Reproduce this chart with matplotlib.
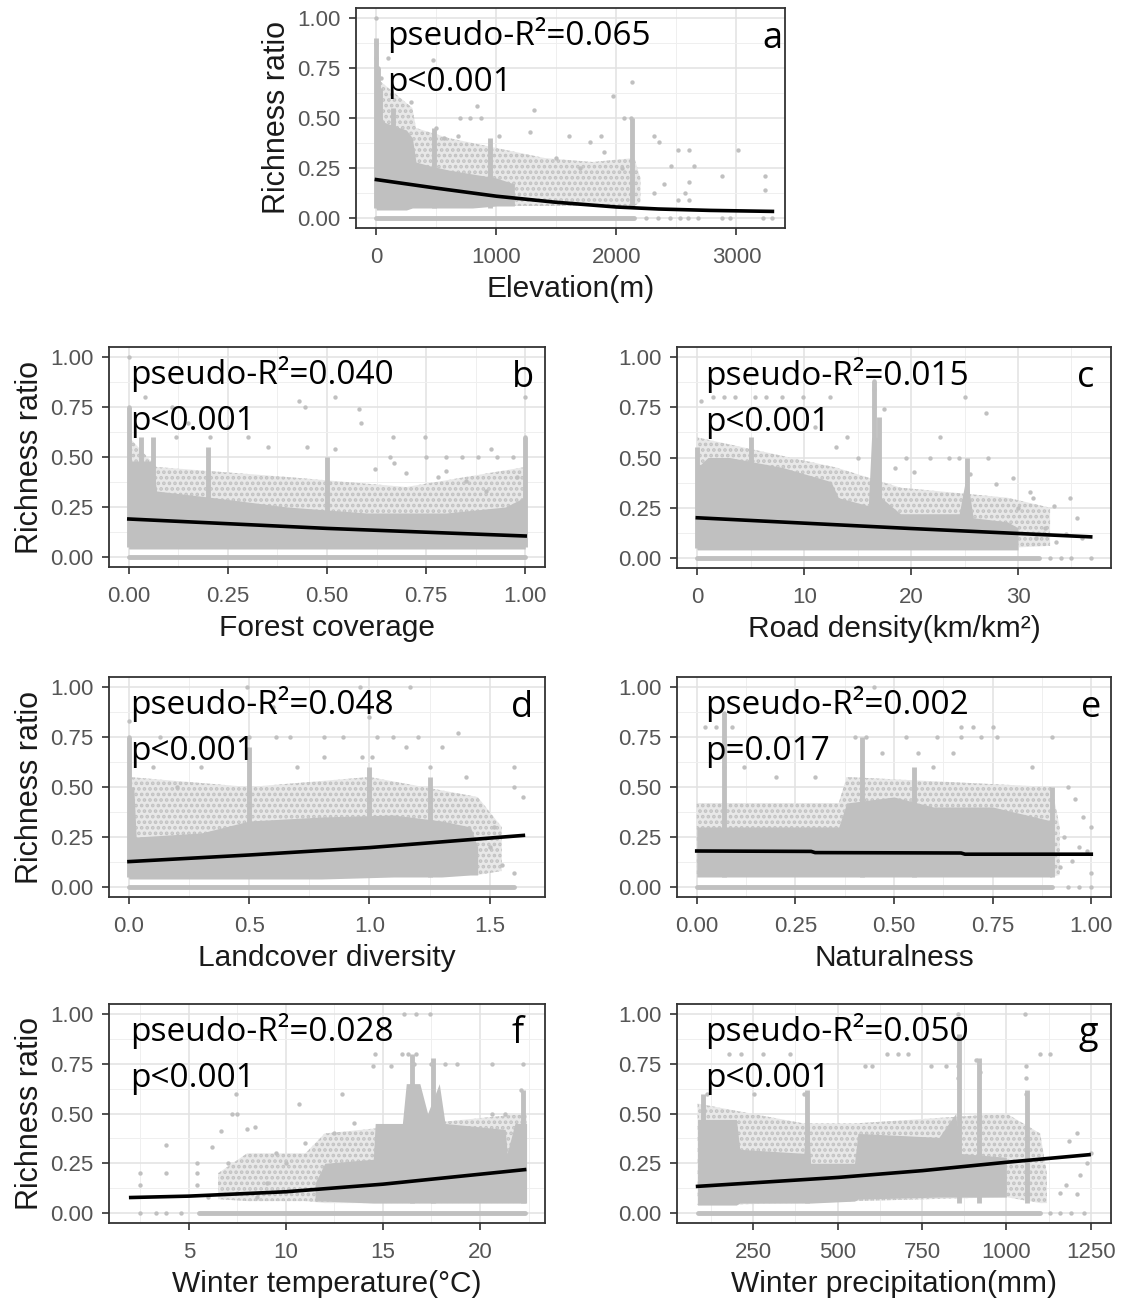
import numpy as np
import matplotlib.pyplot as plt
from matplotlib.ticker import AutoMinorLocator

# ---- panel a: elevation ----
a_core_x = [0, 20, 60, 150, 250, 300, 330, 450, 600, 800, 1000, 1150]
a_core_lo = [0.04, 0.04, 0.04, 0.04, 0.04, 0.05, 0.05, 0.05, 0.05, 0.05, 0.06, 0.06]
a_core_hi = [0.62, 0.55, 0.48, 0.46, 0.44, 0.40, 0.28, 0.26, 0.24, 0.22, 0.20, 0.17]
a_halo_x = [0, 300, 330, 600, 1000, 1400, 1800, 2150, 2200]
a_halo_lo = [0.04, 0.05, 0.05, 0.05, 0.06, 0.06, 0.06, 0.06, 0.08]
a_halo_hi = [0.70, 0.55, 0.45, 0.40, 0.35, 0.30, 0.28, 0.30, 0.20]
a_spike_x = [0, 10, 30, 140, 480, 950, 2130]
a_spike_top = [0.90, 0.75, 0.65, 0.55, 0.45, 0.40, 0.50]
a_zero = [0, 2150]
a_pts_x = [0, 0, 0, 15, 40, 100, 475, 285, 842, 1312, 2134, 1972, 2060, 2119, 696, 784, 872,
           681, 1018, 1283, 1605, 1870, 2310, 1782, 2354, 2515, 2604, 3014, 2457, 2648, 2882,
           3235, 3235, 2604, 2574, 2604, 2310, 2398, 2515, 500, 560, 1500, 1700, 1900, 2050,
           2250, 2350, 2450, 2530, 2600, 2680, 2880, 2950, 3220, 3300]
a_pts_y = [1.0, 0.87, 0.8, 0.75, 0.7, 0.8, 0.79, 0.58, 0.56, 0.54, 0.68, 0.61, 0.5, 0.5, 0.5, 0.5, 0.5,
           0.41, 0.41, 0.43, 0.41, 0.41, 0.41, 0.38, 0.38, 0.34, 0.34, 0.34, 0.26, 0.26, 0.21,
           0.21, 0.14, 0.18, 0.125, 0.09, 0.125, 0.17, 0.09, 0.45, 0.40, 0.30, 0.25, 0.33, 0.25,
           0, 0, 0, 0, 0, 0, 0, 0, 0, 0]
a_fit_x = [0, 490, 1000, 1490, 2000, 2350, 2780, 3300]
a_fit_y = [0.192, 0.150, 0.109, 0.079, 0.055, 0.045, 0.038, 0.033]

# ---- panel b: forest coverage ----
b_core_x = [0, 0.06, 0.07, 0.2, 0.4, 0.6, 0.8, 0.95, 1.0]
b_core_lo = [0.04, 0.04, 0.04, 0.04, 0.04, 0.04, 0.04, 0.04, 0.04]
b_core_hi = [0.48, 0.48, 0.33, 0.30, 0.25, 0.22, 0.22, 0.25, 0.30]
b_halo_x = [0, 0.07, 0.4, 0.7, 1.0]
b_halo_lo = [0.04, 0.04, 0.04, 0.04, 0.04]
b_halo_hi = [0.60, 0.45, 0.40, 0.35, 0.45]
b_spike_x = [0.0, 0.03, 0.06, 0.2, 0.5, 1.0]
b_spike_top = [0.75, 0.60, 0.60, 0.55, 0.50, 0.60]
b_zero = [0, 1.0]
b_pts_x = [0, 0.042, 0.0, 0.11, 0.205, 0.43, 0.445, 0.52, 0.58, 0.585, 0.52, 0.666, 0.747, 0.914,
           1.0, 1.0, 0.66, 0.75, 0.80, 0.84, 0.88, 0.93, 0.97, 0.67, 0.78, 0.80, 0.90, 0.30,
           0.25, 0.35, 0.15, 0.12, 0.98, 0.85, 0.70, 0.45, 0.62]
b_pts_y = [1.0, 0.80, 0.75, 0.75, 0.60, 0.78, 0.75, 0.80, 0.74, 0.67, 0.54, 0.60, 0.60, 0.54,
           0.80, 0.60, 0.5, 0.5, 0.5, 0.5, 0.5, 0.5, 0.5, 0.47, 0.40, 0.43, 0.33, 0.60,
           0.65, 0.55, 0.67, 0.60, 0.40, 0.38, 0.42, 0.55, 0.44]
b_fit_x = [0, 0.5, 1.0]
b_fit_y = [0.190, 0.143, 0.105]

# ---- panel c: road density ----
c_core_x = [0, 1, 3, 8, 12.5, 13.2, 16, 16.3, 16.9, 17.2, 19, 24.5, 25.2, 25.8, 29, 30]
c_core_lo = [0.04] * 16
c_core_hi = [0.45, 0.50, 0.50, 0.45, 0.38, 0.30, 0.26, 0.60, 0.60, 0.30, 0.22, 0.22, 0.42, 0.20, 0.18, 0.15]
c_halo_x = [0, 13, 19, 29, 33]
c_halo_lo = [0.04, 0.04, 0.04, 0.05, 0.06]
c_halo_hi = [0.60, 0.45, 0.35, 0.30, 0.25]
c_spike_x = [0, 5, 16.5, 17.0, 25.2]
c_spike_top = [0.55, 0.60, 0.88, 0.70, 0.50]
c_zero = [0, 32]
c_pts_x = [0.3, 1.5, 2.5, 3.5, 5.4, 6.4, 7.9, 9.9, 12.4, 16.5, 16.5, 16.5, 17.5, 25.0, 27.0, 22.7,
           21.8, 23.5, 24.5, 27.2, 20.3, 25.5, 27.9, 31.1, 31.4, 34.9, 33.4, 33.6, 31.7, 36.8,
           34.5, 35.5, 30.0, 32.5, 29.5, 19.5, 18.5, 14.0, 11.0, 13.0, 15.0, 36.0, 35.0, 34.0, 33.0]
c_pts_y = [0.78, 0.8, 0.8, 0.8, 0.8, 0.8, 0.8, 0.8, 0.8, 0.88, 0.84, 0.75, 0.74, 0.80, 0.72, 0.60,
           0.5, 0.5, 0.5, 0.5, 0.43, 0.42, 0.37, 0.33, 0.30, 0.30, 0.26, 0.08, 0.10, 0.0,
           0.12, 0.20, 0.25, 0.15, 0.40, 0.50, 0.45, 0.60, 0.65, 0.55, 0.50, 0.10, 0.0, 0.0, 0.0]
c_fit_x = [0, 19.8, 36.8]
c_fit_y = [0.200, 0.147, 0.105]

# ---- panel d: landcover diversity ----
d_core_x = [0, 0.02, 0.03, 0.3, 0.5, 0.8, 1.1, 1.3, 1.42, 1.45]
d_core_lo = [0.04, 0.04, 0.04, 0.04, 0.04, 0.04, 0.05, 0.05, 0.06, 0.06]
d_core_hi = [0.50, 0.50, 0.25, 0.27, 0.33, 0.35, 0.36, 0.33, 0.30, 0.20]
d_halo_x = [0, 0.5, 1.0, 1.45, 1.55]
d_halo_lo = [0.04, 0.04, 0.05, 0.06, 0.08]
d_halo_hi = [0.55, 0.50, 0.55, 0.45, 0.30]
d_spike_x = [0, 0.5, 1.0, 1.25]
d_spike_top = [0.75, 0.70, 0.60, 0.55]
d_zero = [0, 1.6]
d_pts_x = [0.0, 0.0, 0.13, 0.32, 0.41, 0.50, 0.61, 0.67, 0.81, 0.89, 1.03, 1.10, 1.20, 1.37, 1.15,
           1.60, 1.60, 1.64, 0.81, 0.97, 1.01, 0.49, 0.49, 0.96, 1.17, 1.55, 1.50, 1.60, 1.52,
           0.30, 0.70, 1.25, 1.40, 0.20, 0.10, 0.60, 1.00, 1.30]
d_pts_y = [0.83, 0.75, 0.75, 0.75, 0.75, 0.75, 0.75, 0.75, 0.75, 0.75, 0.75, 0.75, 0.75, 0.77, 0.70,
           0.60, 0.50, 0.45, 0.65, 0.65, 0.65, 0.67, 1.0, 1.0, 1.0, 0.11, 0.20, 0.07, 0.30,
           0.60, 0.60, 0.60, 0.55, 0.50, 0.60, 0.90, 0.85, 0.70]
d_fit_x = [0, 0.5, 1.0, 1.64]
d_fit_y = [0.127, 0.160, 0.197, 0.258]

# ---- panel e: naturalness ----
e_core_x = [0, 0.36, 0.38, 0.5, 0.6, 0.75, 0.9]
e_core_lo = [0.05] * 7
e_core_hi = [0.30, 0.30, 0.42, 0.45, 0.40, 0.40, 0.33]
e_halo_x = [0, 0.36, 0.38, 0.9, 0.92]
e_halo_lo = [0.05, 0.05, 0.05, 0.05, 0.06]
e_halo_hi = [0.42, 0.42, 0.55, 0.50, 0.30]
e_spike_x = [0.07, 0.42, 0.55, 0.9]
e_spike_top = [0.87, 0.75, 0.60, 0.50]
e_zero = [0, 0.9]
e_pts_x = [0.41, 0.45, 0.07, 0.02, 0.05, 0.09, 0.67, 0.70, 0.75, 0.40, 0.43, 0.53, 0.61, 0.67, 0.72,
           0.76, 0.90, 0.47, 0.56, 0.65, 0.94, 0.96, 0.98, 1.0, 1.0, 0.93, 0.95, 0.97, 0.99, 0.92,
           0.07, 0.12, 0.20, 0.30, 0.85, 0.60, 0.94, 0.97, 1.0]
e_pts_y = [1.0, 1.0, 0.87, 0.8, 0.8, 0.8, 0.8, 0.8, 0.8, 0.75, 0.75, 0.75, 0.75, 0.75, 0.75,
           0.75, 0.75, 0.67, 0.67, 0.67, 0.50, 0.44, 0.35, 0.30, 0.07, 0.25, 0.13, 0.20, 0.18, 0.10,
           0.60, 0.60, 0.55, 0.55, 0.60, 0.60, 0.0, 0.0, 0.0]
e_fit_x = [0, 0.29, 0.30, 0.67, 0.68, 1.0]
e_fit_y = [0.180, 0.178, 0.172, 0.170, 0.164, 0.164]

# ---- panel f: winter temperature ----
f_core_x = [11.5, 12, 14.5, 14.6, 16, 16.2, 16.9, 17.3, 17.9, 18.2, 21.3, 21.4, 21.8, 22.4]
f_core_lo = [0.06, 0.06, 0.05, 0.05, 0.05, 0.05, 0.05, 0.05, 0.05, 0.05, 0.05, 0.05, 0.05, 0.05]
f_core_hi = [0.15, 0.25, 0.27, 0.45, 0.45, 0.65, 0.65, 0.50, 0.65, 0.45, 0.42, 0.30, 0.45, 0.45]
f_halo_x = [6.5, 8, 11, 12, 22.4]
f_halo_lo = [0.07, 0.06, 0.06, 0.05, 0.05]
f_halo_hi = [0.20, 0.30, 0.30, 0.40, 0.50]
f_spike_x = [16.5, 17.6, 22.2]
f_spike_top = [0.80, 0.78, 0.62]
f_zero = [5.5, 22.3]
f_pts_x = [2.5, 2.5, 2.5, 3.3, 3.8, 4.6, 3.8, 3.8, 5.4, 5.4, 5.4, 6.2, 6.66, 7.2, 7.5, 7.4, 8.0,
           8.4, 10.67, 12.9, 14.5, 14.6, 15.4, 16.0, 16.3, 16.7, 16.7, 17.4, 16.1, 16.6, 17.5,
           18.2, 18.8, 20.6, 22.2, 20.6, 22.1, 21.3, 9.5, 10.0, 11.0, 12.5, 13.5, 9.0, 7.5, 8.5,
           6.0, 7.0]
f_pts_y = [0.20, 0.14, 0.0, 0.0, 0.0, 0.0, 0.34, 0.20, 0.20, 0.25, 0.14, 0.33, 0.41, 0.50, 0.50, 0.60, 0.42,
           0.43, 0.55, 0.60, 0.74, 0.80, 0.74, 0.80, 0.80, 0.80, 1.0, 1.0, 1.0, 0.75, 0.75,
           0.75, 0.75, 0.75, 0.75, 0.50, 0.62, 0.50, 0.30, 0.25, 0.35, 0.40, 0.45, 0.15, 0.10, 0.08,
           0.08, 0.25]
f_fit_x = [2.0, 5.0, 10.0, 15.0, 20.0, 22.3]
f_fit_y = [0.078, 0.085, 0.107, 0.145, 0.195, 0.218]

# ---- panel g: winter precipitation ----
g_core_x = [85, 200, 210, 400, 410, 420, 550, 560, 800, 850, 860, 1000]
g_core_lo = [0.04, 0.04, 0.05, 0.05, 0.05, 0.05, 0.06, 0.07, 0.08, 0.08, 0.08, 0.08]
g_core_hi = [0.47, 0.47, 0.32, 0.30, 0.55, 0.25, 0.25, 0.40, 0.38, 0.50, 0.30, 0.28]
g_halo_x = [85, 400, 550, 1000, 1100, 1120]
g_halo_lo = [0.04, 0.05, 0.06, 0.08, 0.05, 0.05]
g_halo_hi = [0.55, 0.45, 0.45, 0.50, 0.40, 0.20]
g_spike_x = [100, 410, 860, 920, 1060]
g_spike_top = [0.60, 0.62, 0.90, 0.78, 0.62]
g_zero = [85, 1100]
g_pts_x = [215, 279, 358, 178, 645, 680, 708, 857, 857, 857, 910, 921, 1101, 1128, 1059, 820, 778,
           581, 602, 114, 252, 401, 1059, 1059, 1208, 1186, 1250, 1239, 1208, 1176, 1160, 1218,
           857, 1054, 1130, 1160, 1190, 1230]
g_pts_y = [0.80, 0.80, 0.80, 0.80, 0.80, 0.80, 0.80, 0.88, 0.74, 0.68, 0.77, 0.71, 0.80, 0.80, 0.74, 0.74, 0.74,
           0.74, 0.74, 0.60, 0.60, 0.60, 0.60, 0.68, 0.40, 0.36, 0.30, 0.25, 0.095, 0.14, 0.10, 0.19,
           1.0, 1.0, 0.0, 0.0, 0.0, 0.0]
g_fit_x = [85, 502, 751, 1000, 1245]
g_fit_y = [0.134, 0.179, 0.213, 0.255, 0.293]

W, H = 1123, 1307
fig = plt.figure(figsize=(W / 100, H / 100), dpi=100)
plt.rcParams['hatch.linewidth'] = 1.8

tick_font = 'Liberation Sans'
note_font = 'Open Sans'
pt_col = '#c0c0c0'


def add_ax(l, t, r, b):
    return fig.add_axes([l / W, 1 - b / H, (r - l) / W, (b - t) / H])


def panel(ax, core, halo, spikes, zero, pts, fit, xlim, xticks, xlabels, xlabel, ylabel,
          stat, letter, tx, lx):
    ax.fill_between(halo[0], halo[1], halo[2], facecolor='#e8e8e8', hatch='...',
                    edgecolor='#c2c2c2', lw=0, zorder=2)
    ax.fill_between(core[0], core[1], core[2], color=pt_col, lw=0, zorder=3)
    ax.vlines(spikes[0], 0.05, spikes[1], color=pt_col, lw=3.5, zorder=3)
    ax.plot(zero, [0, 0], color=pt_col, lw=3.5, solid_capstyle='round', zorder=3)
    ax.scatter(pts[0], pts[1], s=10, color=pt_col, lw=0, zorder=3)
    ax.plot(fit[0], fit[1], color='black', lw=2.6, zorder=5)

    ax.set_xlim(xlim)
    ax.set_ylim(-0.05, 1.05)
    ax.set_xticks(xticks)
    ax.set_xticklabels(xlabels)
    ax.set_yticks([0, 0.25, 0.5, 0.75, 1.0])
    ax.set_yticklabels(['0.00', '0.25', '0.50', '0.75', '1.00'])
    ax.xaxis.set_minor_locator(AutoMinorLocator(2))
    ax.yaxis.set_minor_locator(AutoMinorLocator(2))
    ax.grid(which='major', color='#e2e2e2', lw=1.1, zorder=0)
    ax.grid(which='minor', color='#efefef', lw=0.7, zorder=0)
    ax.set_axisbelow(True)
    ax.tick_params(which='major', length=5, width=1.2, color='#333333',
                   labelsize=16, labelcolor='#555555', pad=6)
    ax.tick_params(axis='x', which='major', pad=9)
    ax.tick_params(which='minor', length=0)
    for lab in ax.get_xticklabels() + ax.get_yticklabels():
        lab.set_family(tick_font)
    for s in ax.spines.values():
        s.set_color('#333333')
        s.set_linewidth(1.3)
    ax.set_xlabel(xlabel, fontsize=21.5, family=tick_font, color='#1a1a1a', labelpad=5)
    if ylabel:
        ax.set_ylabel(ylabel, fontsize=22, family=tick_font, color='#1a1a1a', labelpad=4)
    ax.text(tx, 0.83, stat[0], transform=ax.transAxes, ha='left', va='baseline',
            fontsize=24, family=note_font, color='black', zorder=6)
    ax.text(tx, 0.622, stat[1], transform=ax.transAxes, ha='left', va='baseline',
            fontsize=24, family=note_font, color='black', zorder=6)
    ax.text(lx, 0.82, letter, transform=ax.transAxes, ha='center', va='baseline',
            fontsize=26, family=note_font, color='black', zorder=6)


ax = add_ax(356, 8, 785, 228)
panel(ax, (a_core_x, a_core_lo, a_core_hi), (a_halo_x, a_halo_lo, a_halo_hi),
      (a_spike_x, a_spike_top), a_zero,
      (a_pts_x, a_pts_y), (a_fit_x, a_fit_y), (-170, 3405), [0, 1000, 2000, 3000],
      ['0', '1000', '2000', '3000'], 'Elevation(m)', 'Richness ratio',
      ('pseudo-R²=0.065', 'p<0.001'), 'a', 0.072, 0.97)

ax = add_ax(109, 347, 545, 567)
panel(ax, (b_core_x, b_core_lo, b_core_hi), (b_halo_x, b_halo_lo, b_halo_hi),
      (b_spike_x, b_spike_top), b_zero,
      (b_pts_x, b_pts_y), (b_fit_x, b_fit_y), (-0.05, 1.05), [0, 0.25, 0.5, 0.75, 1.0],
      ['0.00', '0.25', '0.50', '0.75', '1.00'], 'Forest coverage', 'Richness ratio',
      ('pseudo-R²=0.040', 'p<0.001'), 'b', 0.048, 0.95)

ax = add_ax(677, 347, 1111, 568)
panel(ax, (c_core_x, c_core_lo, c_core_hi), (c_halo_x, c_halo_lo, c_halo_hi),
      (c_spike_x, c_spike_top), c_zero,
      (c_pts_x, c_pts_y), (c_fit_x, c_fit_y), (-1.9, 38.7), [0, 10, 20, 30],
      ['0', '10', '20', '30'], 'Road density(km/km²)', None,
      ('pseudo-R²=0.015', 'p<0.001'), 'c', 0.065, 0.942)

ax = add_ax(109, 677, 545, 897)
panel(ax, (d_core_x, d_core_lo, d_core_hi), (d_halo_x, d_halo_lo, d_halo_hi),
      (d_spike_x, d_spike_top), d_zero,
      (d_pts_x, d_pts_y), (d_fit_x, d_fit_y), (-0.083, 1.73), [0, 0.5, 1.0, 1.5],
      ['0.0', '0.5', '1.0', '1.5'], 'Landcover diversity', 'Richness ratio',
      ('pseudo-R²=0.048', 'p<0.001'), 'd', 0.048, 0.947)

ax = add_ax(677, 677, 1111, 897)
panel(ax, (e_core_x, e_core_lo, e_core_hi), (e_halo_x, e_halo_lo, e_halo_hi),
      (e_spike_x, e_spike_top), e_zero,
      (e_pts_x, e_pts_y), (e_fit_x, e_fit_y), (-0.05, 1.05), [0, 0.25, 0.5, 0.75, 1.0],
      ['0.00', '0.25', '0.50', '0.75', '1.00'], 'Naturalness', None,
      ('pseudo-R²=0.002', 'p=0.017'), 'e', 0.065, 0.954)

ax = add_ax(109, 1004, 545, 1223)
panel(ax, (f_core_x, f_core_lo, f_core_hi), (f_halo_x, f_halo_lo, f_halo_hi),
      (f_spike_x, f_spike_top), f_zero,
      (f_pts_x, f_pts_y), (f_fit_x, f_fit_y), (0.88, 23.35), [5, 10, 15, 20],
      ['5', '10', '15', '20'], 'Winter temperature(°C)', 'Richness ratio',
      ('pseudo-R²=0.028', 'p<0.001'), 'f', 0.048, 0.938)

ax = add_ax(677, 1004, 1111, 1223)
panel(ax, (g_core_x, g_core_lo, g_core_hi), (g_halo_x, g_halo_lo, g_halo_hi),
      (g_spike_x, g_spike_top), g_zero,
      (g_pts_x, g_pts_y), (g_fit_x, g_fit_y), (24, 1310), [250, 500, 750, 1000, 1250],
      ['250', '500', '750', '1000', '1250'], 'Winter precipitation(mm)', None,
      ('pseudo-R²=0.050', 'p<0.001'), 'g', 0.065, 0.947)

fig.savefig('out.png', dpi=100, facecolor='white')
